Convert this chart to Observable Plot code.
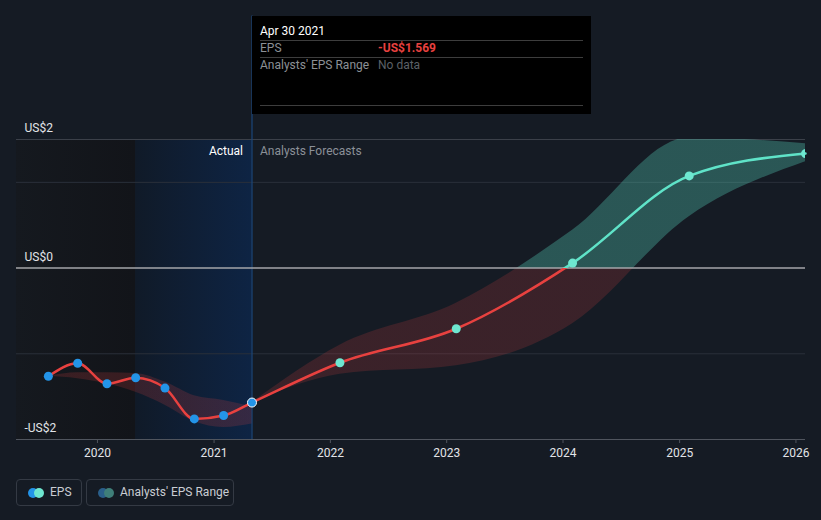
<!DOCTYPE html>
<html><head><meta charset="utf-8">
<script src="https://cdn.jsdelivr.net/npm/d3@7"></script>
<script src="https://cdn.jsdelivr.net/npm/@observablehq/plot@0.6"></script>
<style>
html,body{margin:0;padding:0;background:#151b24;}
#wrap{position:relative;width:821px;height:520px;overflow:hidden;font-family:Roboto,"Noto Sans",sans-serif;}
#chart{position:absolute;left:0;top:0;}
#tip{position:absolute;left:252px;top:16px;width:339px;height:98px;background:#000;font-size:12px;}
#tip .t{position:absolute;left:8px;top:8px;color:#fff;}
#tip .hr{position:absolute;left:8px;right:8px;height:1px;background:#3d3d3d;}
#tip .k{position:absolute;left:8px;color:#8c9096;}
#tip .v{position:absolute;left:126px;}
.leg{position:absolute;top:479px;height:27px;border:1px solid #343a44;border-radius:4px;box-sizing:border-box;color:#c9cdd3;font-size:12px;line-height:25px;}
.leg .c{position:absolute;top:8px;width:10px;height:10px;border-radius:50%;}
.leg span.l{position:absolute;top:0;}
</style></head>
<body><div id="wrap"><div id="chart"></div>
<div id="tip">
 <div class="t">Apr 30 2021</div>
 <div class="hr" style="top:24px"></div>
 <div class="k" style="top:25px">EPS</div><div class="v" style="top:25px;color:#e8413f;font-weight:bold">-US$1.569</div>
 <div class="hr" style="top:41px"></div>
 <div class="k" style="top:42px">Analysts' EPS Range</div><div class="v" style="top:42px;color:#5c6067">No data</div>
 <div class="hr" style="top:89px"></div>
</div>
<div class="leg" style="left:16px;width:66px"><div class="c" style="left:11px;background:#2394e8"></div><div class="c" style="left:17px;background:#6ee7d0"></div><span class="l" style="left:33px">EPS</span></div>
<div class="leg" style="left:86px;width:148px"><div class="c" style="left:11px;background:#2a5f8a"></div><div class="c" style="left:17px;background:#3f7f79"></div><span class="l" style="left:33px">Analysts' EPS Range</span></div>
</div>
<script>
// ---- data ----
const pastDates = ["2019-07-31","2019-10-31","2020-01-31","2020-04-30","2020-07-31","2020-10-31","2021-01-31","2021-04-30"];
const pastEps   = [-1.262,-1.11,-1.35,-1.28,-1.40,-1.76,-1.72,-1.569];
const pastLow   = [-1.262,-1.29,-1.35,-1.45,-1.60,-1.79,-1.86,-1.82];
const pastHigh  = [-1.262,-1.22,-1.22,-1.23,-1.33,-1.49,-1.545,-1.62];
const fcDates = ["2021-04-30","2022-01-31","2023-01-31","2024-01-31","2025-01-31","2026-01-31"];
const fcEps   = [-1.569,-1.105,-0.708,0.058,1.075,1.336];
const fcLow   = [-1.569,-1.24,-1.14,-0.65,0.60,1.24];
const fcHigh  = [-1.569,-0.90,-0.41,0.44,1.52,1.45];
const xDomain = ["2019-04-22","2026-01-31"];
const yDomain = [-2,1.5];
const yTickValues = [1.5,0,-2];
const yTickLabels = ["US$2","US$0","-US$2"];
const gridValues = [1,-1];
const xTickYears = [2020,2021,2022,2023,2024,2025,2026];
const regionDark = {from:"2019-04-22", to:"2020-04-30"};
const regionActual = {from:"2020-04-30", to:"2021-04-30"};
const nowDate = "2021-04-30";

const P = d3.timeParse("%Y-%m-%d");
const past = pastDates.map((d,i)=>({date:P(d),eps:pastEps[i],lo:pastLow[i],hi:pastHigh[i]}));
const fc = fcDates.map((d,i)=>({date:P(d),eps:fcEps[i],lo:fcLow[i],hi:fcHigh[i]}));
const allLine = past.concat(fc.slice(1));
const xTicks = xTickYears.map(y=>new Date(y,0,1));
const yt = yTickValues.map((v,i)=>({v,label:yTickLabels[i]}));
const now = P(nowDate);

const W=821,H=470;
const plot = Plot.plot({
  width:W,height:H,
  marginLeft:16,marginRight:16,marginTop:139,marginBottom:31,
  style:{background:"transparent",fontFamily:"Roboto, sans-serif",fontSize:"12px",overflow:"visible"},
  x:{type:"time",domain:xDomain.map(P),axis:null},
  y:{type:"linear",domain:yDomain,axis:null},
  marks:[
    Plot.rect([regionDark],{x1:d=>P(d.from),x2:d=>P(d.to),y1:yDomain[0],y2:yDomain[1],fill:"url(#gDark)"}),
    Plot.rect([regionActual],{x1:d=>P(d.from),x2:d=>P(d.to),y1:yDomain[0],y2:yDomain[1],fill:"url(#gBlue)"}),
    Plot.ruleY([yDomain[1]],{stroke:"#3b4049",strokeWidth:1}),
    Plot.ruleY(gridValues,{stroke:"#2a303a",strokeWidth:1}),
    Plot.ruleX([now],{y1:yDomain[0],y2:2.94,stroke:"#1b467a",strokeWidth:1.2}),
    Plot.areaY(past,{x:"date",y1:"lo",y2:"hi",curve:"monotone-x",fill:"url(#gBand)"}),
    Plot.areaY(fc,{x:"date",y1:"lo",y2:"hi",curve:"monotone-x",fill:"url(#gBand)",clip:true}),
    Plot.ruleY([0],{stroke:"#a4a6aa",strokeWidth:1.5}),
    Plot.ruleY([yDomain[0]],{stroke:"#50555e",strokeWidth:1}),
    Plot.ruleX(xTicks,{x:d=>d,y1:yDomain[0],y2:yDomain[0],insetBottom:-4,stroke:"#50555e"}),
    Plot.text(xTicks,{x:d=>d,y:yDomain[0],text:d=>String(d.getFullYear()),dy:14,fill:"#e2e4e8",fontSize:12}),
    Plot.text(yt,{x:()=>P(xDomain[0]),y:"v",text:"label",dx:8,dy:-11,textAnchor:"start",fill:"#e2e4e8",fontSize:12}),
    Plot.text([now],{x:d=>d,y:yDomain[1],text:()=>"Actual",dx:-9,dy:12,textAnchor:"end",fill:"#ffffff",fontSize:12}),
    Plot.text([now],{x:d=>d,y:yDomain[1],text:()=>"Analysts Forecasts",dx:8,dy:12,textAnchor:"start",fill:"#8b9098",fontSize:12}),
    Plot.line(allLine,{x:"date",y:"eps",curve:"monotone-x",stroke:"url(#gLine)",strokeWidth:2.5}),
    Plot.dot(past.slice(0,-1),{x:"date",y:"eps",r:4.5,fill:"#2394e8"}),
    Plot.dot(fc.slice(1),{x:"date",y:"eps",r:4.5,fill:"#6ee7d0",clip:true}),
    Plot.dot(past.slice(-1),{x:"date",y:"eps",r:4.5,fill:"#2394e8",stroke:"#ffffff",strokeWidth:1})
  ]
});
const ys = plot.scale("y");
const yS = d3.scaleLinear().domain(ys.domain).range(ys.range);
const z = yS(0)/H;
const ns="http://www.w3.org/2000/svg";
const svg = plot.tagName.toLowerCase()==="svg"?plot:plot.querySelector("svg");
const defs = document.createElementNS(ns,"defs");
function grad(id,stops,horiz){
  const g=document.createElementNS(ns,"linearGradient");
  g.setAttribute("id",id);
  if(horiz){g.setAttribute("x1","0");g.setAttribute("x2","1");g.setAttribute("y1","0");g.setAttribute("y2","0");}
  else{g.setAttribute("gradientUnits","userSpaceOnUse");g.setAttribute("x1","0");g.setAttribute("x2","0");g.setAttribute("y1","0");g.setAttribute("y2",String(H));}
  for(const [o,c,a] of stops){const s=document.createElementNS(ns,"stop");s.setAttribute("offset",o);s.setAttribute("stop-color",c);s.setAttribute("stop-opacity",a);g.appendChild(s);}
  defs.appendChild(g);
}
grad("gLine",[[0,"#5fe3c8",1],[z,"#5fe3c8",1],[z,"#e8413f",1],[1,"#e8413f",1]]);
grad("gBand",[[0,"#5ce1c8",0.3],[z,"#5ce1c8",0.3],[z,"#e64141",0.18],[1,"#e64141",0.18]]);
grad("gDark",[[0,"#15191f",1],[1,"#121419",1]],true);
grad("gBlue",[[0,"#101a28",1],[1,"#0e2444",1]],true);
svg.insertBefore(defs,svg.firstChild);
document.getElementById("chart").appendChild(plot);
</script>
</body></html>
